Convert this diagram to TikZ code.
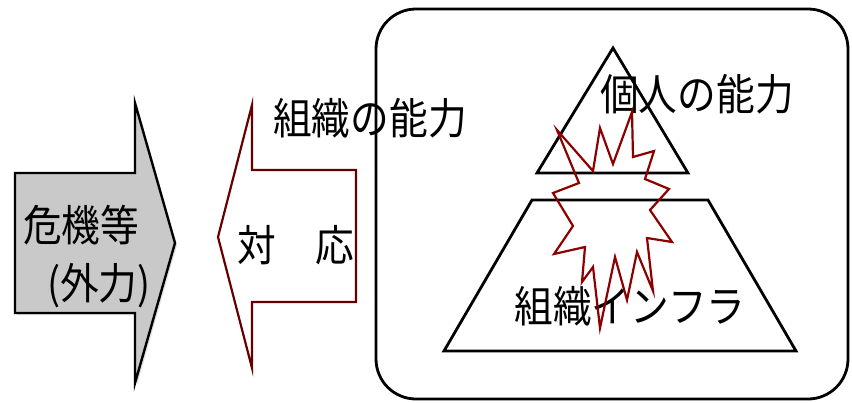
\documentclass[tikz,border=0pt]{standalone}
\usepackage{fontspec}
\newfontfamily\jp[FakeStretch=0.9]{Noto Sans CJK JP}
\usetikzlibrary{shadows}
\begin{document}
\begin{tikzpicture}[x=1pt,y=-1pt,
  txt/.style={font=\jp\fontsize{43}{43}\selectfont, inner sep=0pt},
  grayarrow/.style={draw=black, line width=2.4pt, fill=gray!42, line join=miter,
     drop shadow={shadow xshift=2pt, shadow yshift=-2pt, opacity=0.25}},
  redarrow/.style={draw=red!40!black, line width=2.2pt, fill=white, line join=miter},
  frame/.style={draw=black, line width=2.8pt},
  bang/.style={draw=red!55!black, line width=2.2pt, line join=miter}]
\useasboundingbox (0,0) rectangle (852,402);
% outer rounded box
\draw[frame, rounded corners=40pt] (376,9) rectangle (848,399);
% pyramid
\draw[frame, line join=miter] (613,48) -- (688,173) -- (537,173) -- cycle;
\draw[frame, line join=miter] (532,200) -- (708,200) -- (796,351) -- (444,351) -- cycle;
% gray arrow (external force)
\draw[grayarrow] (15,173) -- (135,173) -- (135,103) -- (175,243) -- (135,383) -- (135,313) -- (15,313) -- cycle;
% response arrow
\draw[redarrow] (356,170) -- (252,170) -- (252,105) -- (218,237) -- (252,368) -- (252,302) -- (356,302) -- cycle;
% texts
\node[txt, anchor=west] (t1) at (23,225) {危機等};
\node[txt, anchor=west] (t2) at (47,286) {(外力)};
\node[txt] (t3) at (296,245) {対　応};
\node[txt] (t4) at (370,118) {組織の能力};
\node[txt] (t5) at (697,94) {個人の能力};
\node[txt] (t6) at (630,306) {組織インフラ};
% explosion
\draw[bang] (557,130) -- (593,171) -- (600,128) -- (613,164) -- (632,112) -- (633,157)
  -- (654,151) -- (645,179) -- (669,189) -- (650,210) -- (672,242) -- (647,238)
  -- (653,291) -- (637,252) -- (627,300) -- (615,257) -- (600,328) -- (593,267)
  -- (582,282) -- (585,247) -- (554,254) -- (573,226) -- (553,193) -- (579,183) -- cycle;
\end{tikzpicture}
\end{document}
